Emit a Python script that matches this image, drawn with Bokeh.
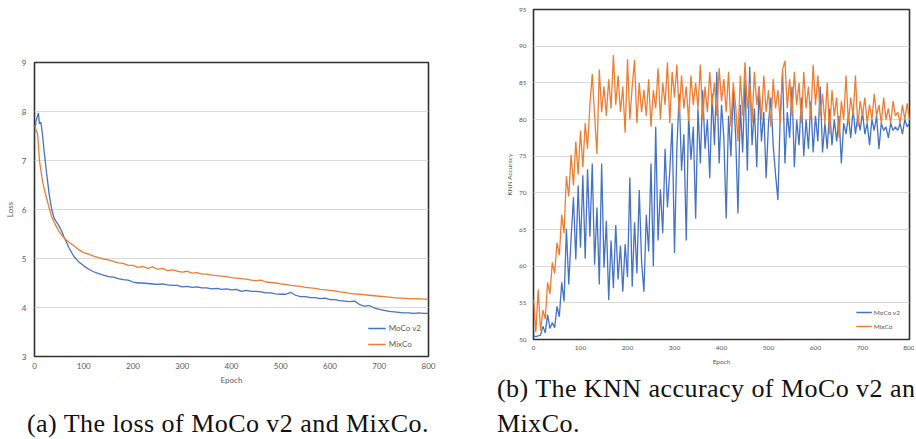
from bokeh.plotting import figure
from bokeh.models import Range1d, FixedTicker, Legend, LegendItem, Div
from bokeh.layouts import row, column
from bokeh.embed import file_html
from bokeh.resources import INLINE

# ---------------- data: loss ----------------
loss_epoch = [0, 3, 6, 8, 10, 13, 16, 20, 25, 30, 35, 40, 45, 50, 55, 60, 70, 80, 90, 100] + list(range(110, 810, 10))

loss_moco = [7.55, 7.8, 7.9, 7.97, 7.75, 7.78, 7.55, 7.15, 6.7, 6.3, 6.0, 5.82, 5.74, 5.66, 5.56, 5.44, 5.22, 5.04, 4.93, 4.85,
             4.78, 4.73, 4.69, 4.66, 4.63, 4.62, 4.59, 4.57, 4.56, 4.52,
             4.50, 4.50, 4.49, 4.48, 4.47, 4.48, 4.46, 4.45, 4.45, 4.42,
             4.43, 4.41, 4.42, 4.40, 4.40, 4.38, 4.39, 4.37, 4.38, 4.36,
             4.37, 4.33, 4.35, 4.33, 4.33, 4.32, 4.30, 4.30, 4.28, 4.27,
             4.27, 4.31, 4.25, 4.22, 4.22, 4.20, 4.20, 4.18, 4.19, 4.16,
             4.16, 4.14, 4.13, 4.12, 4.13, 4.06, 4.03, 4.04, 3.99, 3.96,
             3.94, 3.92, 3.91, 3.90, 3.89, 3.89, 3.88, 3.89, 3.88, 3.88]

loss_mixco = [7.72, 7.62, 7.55, 7.3, 7.0, 6.8, 6.6, 6.4, 6.22, 6.02, 5.85, 5.74, 5.64, 5.55, 5.48, 5.42, 5.33, 5.26, 5.18, 5.12,
              5.09, 5.05, 5.02, 4.99, 4.97, 4.94, 4.91, 4.90, 4.86, 4.86,
              4.82, 4.84, 4.80, 4.83, 4.78, 4.80, 4.75, 4.77, 4.74, 4.72,
              4.74, 4.70, 4.71, 4.68, 4.68, 4.66, 4.65, 4.64, 4.63, 4.61,
              4.60, 4.59, 4.58, 4.56, 4.55, 4.56, 4.52, 4.51, 4.50, 4.48,
              4.47, 4.45, 4.44, 4.43, 4.41, 4.40, 4.39, 4.37, 4.36, 4.35,
              4.34, 4.32, 4.31, 4.29, 4.28, 4.27, 4.26, 4.25, 4.24, 4.23,
              4.22, 4.21, 4.20, 4.19, 4.19, 4.18, 4.18, 4.18, 4.17, 4.17]

# ---------------- data: KNN accuracy ----------------
acc_epoch = list(range(0, 805, 5))

acc_moco = [50.5, 50.4, 50.5, 50.6, 51.8, 50.9, 53.4, 51.5, 52.3, 51.6, 54.5, 53.1, 57.8, 55.2, 65.1, 57.5, 63.8, 69.4, 60.9, 71.0,
            62.5, 72.4, 61.0, 73.2, 64.0, 74.0, 60.2, 68.0, 57.5, 74.0, 59.8, 66.2, 55.4, 63.5, 57.0, 65.6, 58.2, 62.8, 56.5, 63.0,
            58.5, 72.1, 57.2, 66.0, 59.0, 70.4, 60.5, 56.5, 67.0, 62.0, 74.0, 60.0, 79.0, 63.5, 70.5, 64.5, 76.0, 68.0, 73.0, 79.5,
            61.8, 76.0, 83.5, 73.0, 78.0, 63.5, 80.5, 74.5, 79.0, 66.5, 81.5, 74.0, 84.0, 76.0, 80.0, 72.0, 83.5, 76.5, 86.5, 74.0,
            82.0, 77.5, 66.5, 80.5, 75.0, 84.0, 78.0, 67.2, 82.0, 75.5, 85.5, 73.0, 87.2, 76.5, 81.5, 73.5, 84.5, 77.0, 81.0, 72.0,
            79.5, 83.0, 76.5, 72.5, 69.0, 80.5, 86.5, 74.0, 81.0, 77.5, 84.5, 73.5, 80.0, 76.5, 83.0, 75.0, 80.0, 76.0, 82.5, 75.5,
            80.5, 77.0, 84.5, 75.5, 79.5, 76.0, 81.5, 76.5, 80.0, 77.0, 80.5, 74.0, 79.5, 78.0, 80.5, 77.5, 81.5, 78.0, 80.5, 78.5,
            81.0, 78.0, 79.5, 76.5, 80.0, 78.5, 80.5, 76.0, 79.5, 78.5, 79.0, 77.5, 79.5, 78.5, 79.0, 78.5, 79.5, 78.0, 80.0, 79.0,
            79.5]

acc_mixco = [55.5, 51.0, 56.8, 51.2, 54.0, 52.8, 57.8, 56.2, 60.5, 59.0, 63.2, 61.5, 67.0, 64.5, 72.3, 69.5, 75.2, 71.0, 77.0, 72.5,
             78.5, 73.5, 79.5, 76.0, 82.0, 86.2, 80.5, 75.3, 86.8, 81.0, 84.5, 80.5, 85.5, 81.5, 88.8, 82.0, 86.0, 81.0, 84.5, 78.2,
             88.2, 80.0, 84.5, 88.1, 79.5, 85.0, 81.0, 84.0, 80.5, 85.5, 79.0, 84.0, 81.5, 87.0, 80.0, 85.0, 82.0, 87.8, 79.5, 86.5,
             83.0, 87.5, 80.5, 86.0, 81.5, 84.5, 79.8, 86.0, 82.0, 85.0, 81.5, 87.5, 80.0, 84.5, 81.0, 86.5, 82.0, 85.0, 80.5, 87.0,
             82.5, 85.5, 81.0, 86.5, 79.0, 85.0, 82.0, 77.0, 86.0, 80.5, 87.8, 81.5, 85.0, 79.5, 86.5, 82.0, 84.5, 80.0, 86.0, 81.0,
             84.0, 79.0, 85.5, 81.5, 84.0, 79.5, 86.8, 88.0, 81.5, 85.5, 80.5, 86.5, 82.0, 85.0, 79.5, 86.5, 81.5, 84.5, 80.0, 87.5,
             82.0, 86.0, 80.5, 83.5, 79.5, 85.0, 78.0, 84.0, 80.5, 83.0, 77.5, 82.5, 80.0, 86.0, 79.5, 83.0, 80.5, 86.0, 79.0, 82.5,
             80.5, 83.0, 79.5, 82.0, 80.0, 83.5, 80.5, 82.0, 79.5, 83.0, 80.0, 81.5, 79.5, 82.5, 80.5, 81.0, 79.5, 82.0, 80.0, 82.2,
             80.0]

series_names = ["MoCo v2", "MixCo"]
loss_yticks = [3, 4, 5, 6, 7, 8, 9]
acc_yticks = [50, 55, 60, 65, 70, 75, 80, 85, 90, 95]
epoch_ticks = [0, 100, 200, 300, 400, 500, 600, 700, 800]
caption_a = "(a) The loss of MoCo v2 and MixCo."
caption_b1 = "(b) The KNN accuracy of MoCo v2 and"
caption_b2 = "MixCo."

BLUE = "#4472C4"
ORANGE = "#ED7D31"
GRAY = "#595959"
SANS = "Lato"


def style(p, fs_tick, fs_label, xstand, ystand, xlab_stand, ylab_stand):
    p.outline_line_color = "#303030"
    p.outline_line_width = 1.6
    p.xgrid.grid_line_color = None
    p.ygrid.grid_line_color = "#D9D9D9"
    p.ygrid.grid_line_width = 1
    p.background_fill_color = "white"
    p.border_fill_color = "white"
    for ax in (p.xaxis[0], p.yaxis[0]):
        ax.axis_line_color = None
        ax.major_tick_line_color = None
        ax.minor_tick_line_color = None
        ax.major_tick_out = 0
        ax.major_tick_in = 0
        ax.minor_tick_out = 0
        ax.minor_tick_in = 0
        ax.major_label_text_font = SANS
        ax.major_label_text_font_size = fs_tick
        ax.major_label_text_color = GRAY
        ax.axis_label_text_font = SANS
        ax.axis_label_text_font_size = fs_label
        ax.axis_label_text_color = GRAY
        ax.axis_label_text_font_style = "normal"
    p.xaxis[0].major_label_standoff = xstand
    p.yaxis[0].major_label_standoff = ystand
    p.xaxis[0].axis_label_standoff = xlab_stand
    p.yaxis[0].axis_label_standoff = ylab_stand


# ---------------- left: loss ----------------
p1 = figure(width=470, height=392, x_range=Range1d(0, 800), y_range=Range1d(3, 9),
            output_backend="svg", toolbar_location=None,
            min_border_left=34, min_border_right=42, min_border_top=62, min_border_bottom=36,
            x_axis_label="Epoch", y_axis_label="Loss")
style(p1, "8px", "8px", 6, 8, 3, 4)
p1.xaxis[0].ticker = FixedTicker(ticks=epoch_ticks)
p1.yaxis[0].ticker = FixedTicker(ticks=loss_yticks)

r1 = p1.line(loss_epoch, loss_moco, line_color=BLUE, line_width=1.3)
r2 = p1.line(loss_epoch, loss_mixco, line_color=ORANGE, line_width=1.3)
leg1 = Legend(items=[LegendItem(label=series_names[0], renderers=[r1]),
                     LegendItem(label=series_names[1], renderers=[r2])],
              location="bottom_right", border_line_color=None, background_fill_alpha=0,
              padding=0, margin=7, spacing=6, glyph_width=18, glyph_height=10,
              label_height=10, label_standoff=3, label_text_font=SANS,
              label_text_font_size="8px", label_text_color=GRAY)
p1.add_layout(leg1, "center")

# ---------------- right: KNN accuracy ----------------
p2 = figure(width=444, height=370, x_range=Range1d(0, 800), y_range=Range1d(50, 95),
            output_backend="svg", toolbar_location=None,
            min_border_left=63, min_border_right=5, min_border_top=9, min_border_bottom=31,
            x_axis_label="Epoch", y_axis_label="KNN Accuracy")
style(p2, "6.5px", "6.5px", 6, 7, 5, 3)
p2.xaxis[0].ticker = FixedTicker(ticks=epoch_ticks)
p2.yaxis[0].ticker = FixedTicker(ticks=acc_yticks)

s1 = p2.line(acc_epoch, acc_moco, line_color=BLUE, line_width=1.3)
s2 = p2.line(acc_epoch, acc_mixco, line_color=ORANGE, line_width=1.3)
leg2 = Legend(items=[LegendItem(label=series_names[0], renderers=[s1]),
                     LegendItem(label=series_names[1], renderers=[s2])],
              location="bottom_right", border_line_color=None, background_fill_alpha=0,
              padding=0, margin=9, spacing=6, glyph_width=16, glyph_height=8,
              label_height=8, label_standoff=2, label_text_font=SANS,
              label_text_font_size="6.5px", label_text_color=GRAY)
p2.add_layout(leg2, "center")

# ---------------- captions ----------------
cap_font = ("font-family: 'Liberation Serif', serif; font-size: 26px; letter-spacing: 0.45px; "
            "color: #111111; white-space: nowrap;")
div_a = Div(text=f'<div style="{cap_font} line-height: 27px; padding-top: 18px; padding-left: 27px;">{caption_a}</div>',
            width=470, height=46, margin=0, styles={"overflow": "hidden"})
div_b = Div(text=(f'<div style="{cap_font} line-height: 30px; padding-top: 4px; padding-left: 27px;">{caption_b1}</div>'
                  f'<div style="{cap_font} line-height: 28px; margin-top: 6px; padding-left: 27px;">{caption_b2}</div>'),
            width=444, height=68, margin=0, styles={"overflow": "hidden"})

layout = row(column(p1, div_a, spacing=0), column(p2, div_b, spacing=0), spacing=0)
open("out.html", "w").write(file_html(layout, INLINE))
